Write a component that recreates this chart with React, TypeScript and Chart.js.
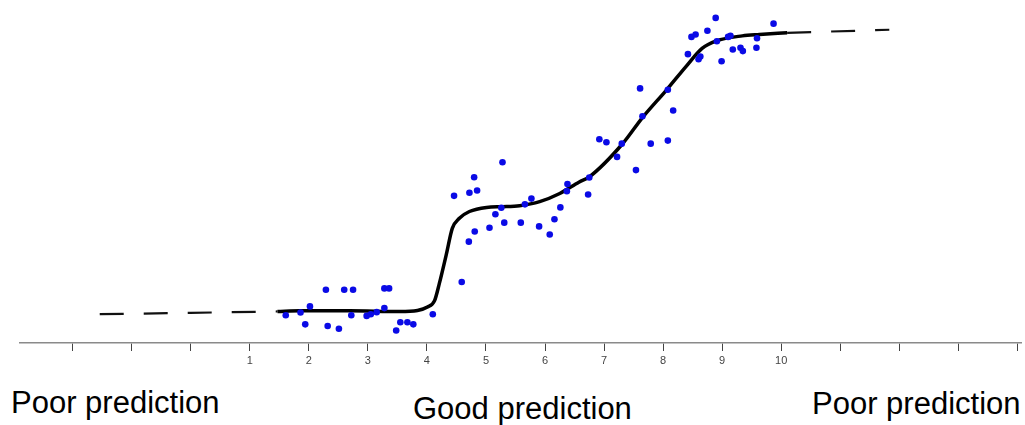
import React, { useEffect, useRef } from "react";
import { Chart, registerables } from "chart.js";

Chart.register(...registerables);

// Observed data points (x on the 1–10 axis, y on an arbitrary 0–100 scale)
const pointX = [
  1.61, 1.86, 1.94, 2.02, 2.29, 2.32, 2.51, 2.6, 2.75, 2.72, 2.98, 3.05, 3.15, 3.28, 3.36, 3.28, 3.48, 3.55,
  3.67, 3.77, 4.1, 4.59, 4.46, 4.72, 4.8, 4.85, 5.28, 4.71, 4.81, 5.06, 5.16, 5.31, 5.26, 5.59, 5.66, 5.77,
  5.9, 6.08, 6.16, 6.26, 6.38, 6.37, 6.73, 6.75, 6.92, 7.04, 7.3, 7.22, 7.54, 7.79, 7.65, 7.61, 8.08, 8.17,
  8.08, 8.42, 8.48, 8.55, 8.6, 8.63, 8.75, 8.89, 8.91, 8.99, 9.1, 9.14, 9.18, 9.31, 9.35, 9.58, 9.59, 9.87,
];
const pointY = [
  8.2, 9.0, 5.5, 10.8, 15.7, 5.0, 4.2, 15.7, 15.7, 8.2, 8.0, 8.5, 9.1, 16.1, 16.1, 10.3, 3.7, 6.1,
  6.1, 5.5, 8.5, 18.0, 43.4, 44.3, 48.9, 45.0, 53.3, 29.9, 32.9, 34.0, 38.0, 35.5, 39.9, 35.5, 40.9, 42.6,
  34.4, 32.0, 36.5, 40.0, 46.9, 44.8, 43.8, 48.8, 60.1, 59.2, 58.8, 54.9, 51.0, 58.8, 66.9, 75.1, 59.7, 68.6,
  74.7, 85.2, 90.3, 91.0, 83.7, 84.5, 92.1, 95.9, 89.0, 83.1, 90.3, 90.6, 86.6, 87.1, 86.1, 87.1, 89.9, 94.2,
];

// Fitted curve (solid)
const curveX = [
  1.47, 1.85, 2.69, 3.54, 3.84, 4.01, 4.13, 4.21, 4.33, 4.43, 4.55, 4.72, 5.01, 5.28, 5.57, 5.91, 6.25,
  6.58, 6.75, 7.31, 7.65, 8.06, 8.39, 8.66, 8.9, 9.34, 9.63, 10.1,
];
const curveY = [
  9.3, 9.5, 9.5, 9.3, 9.6, 10.6, 12.5, 17.5, 26.2, 33.8, 36.8, 38.8, 40.0, 40.2, 40.5, 41.7, 44.1,
  47.5, 49.0, 58.7, 66.5, 74.7, 81.6, 86.9, 89.1, 90.6, 91.0, 91.5,
];

// Extrapolated parts (dashed)
const leftDashX = [-1.54, 0, 1.47];
const leftDashY = [8.5, 8.9, 9.3];
const rightDashX = [10.1, 11.83];
const rightDashY = [91.5, 92.4];

const tickValues = [-2, -1, 0, 1, 2, 3, 4, 5, 6, 7, 8, 9, 10, 11, 12, 13, 14];
const labelledTicks = [1, 2, 3, 4, 5, 6, 7, 8, 9, 10];

const bottomLabels = [
  { text: "Poor prediction", left: 11, top: 387 },
  { text: "Good prediction", left: 413, top: 393 },
  { text: "Poor prediction", left: 812, top: 388 },
];

const zip = (xs: number[], ys: number[]) => xs.map((x, i) => ({ x, y: ys[i] }));

export default function App() {
  const ref = useRef<HTMLCanvasElement | null>(null);

  useEffect(() => {
    if (!ref.current) return;
    const chart = new Chart(ref.current, {
      type: "scatter",
      data: {
        datasets: [
          {
            data: zip(pointX, pointY),
            pointRadius: 3.3,
            pointBackgroundColor: "#0a0ae6",
            pointBorderWidth: 0,
            showLine: false,
          },
          {
            data: zip(curveX, curveY),
            showLine: true,
            pointRadius: 0,
            borderColor: "#000",
            borderWidth: 3.5,
            cubicInterpolationMode: "monotone",
          },
          {
            data: zip(leftDashX, leftDashY),
            showLine: true,
            pointRadius: 0,
            borderColor: "#111",
            borderWidth: 2.2,
            borderDash: [24, 20],
          },
          {
            data: zip(rightDashX, rightDashY),
            showLine: true,
            pointRadius: 0,
            borderColor: "#111",
            borderWidth: 2.2,
            borderDash: [24, 20],
          },
        ] as any,
      },
      options: {
        animation: false,
        responsive: false,
        devicePixelRatio: 1,
        layout: { padding: { left: 20, right: 0, top: 0, bottom: 0 } },
        plugins: { legend: { display: false }, tooltip: { enabled: false } },
        scales: {
          x: {
            type: "linear",
            min: -2.89,
            max: 14.06,
            afterBuildTicks: (scale: any) => {
              scale.ticks = tickValues.map((v) => ({ value: v }));
            },
            afterFit: (scale: any) => {
              scale.height = 37;
            },
            grid: {
              drawOnChartArea: false,
              drawTicks: true,
              tickLength: 8,
              tickColor: "#444",
              tickWidth: 1,
            },
            border: { display: true, color: "#8a8a8a", width: 1.5 },
            ticks: {
              autoSkip: false,
              maxRotation: 0,
              padding: 3,
              color: "#444",
              font: { family: "'Liberation Sans', Arial, sans-serif", size: 11 },
              callback: (v: any) => (labelledTicks.includes(Number(v)) ? String(v) : ""),
            },
          },
          y: {
            type: "linear",
            min: 0,
            max: 100,
            display: false,
          },
        },
      } as any,
    });
    return () => chart.destroy();
  }, []);

  return (
    <div style={{ position: "absolute", left: 0, top: 0, width: 1025, height: 425, background: "#fff" }}>
      <canvas
        ref={ref}
        width={1025}
        height={380}
        style={{ position: "absolute", left: 0, top: 0, width: 1025, height: 380 }}
      />
      {bottomLabels.map((l, i) => (
        <div
          key={i}
          style={{
            position: "absolute",
            left: l.left,
            top: l.top,
            fontFamily: "'Liberation Sans', Arial, sans-serif",
            fontSize: 31,
            lineHeight: "31px",
            color: "#000",
            whiteSpace: "nowrap",
          }}
        >
          {l.text}
        </div>
      ))}
    </div>
  );
}
